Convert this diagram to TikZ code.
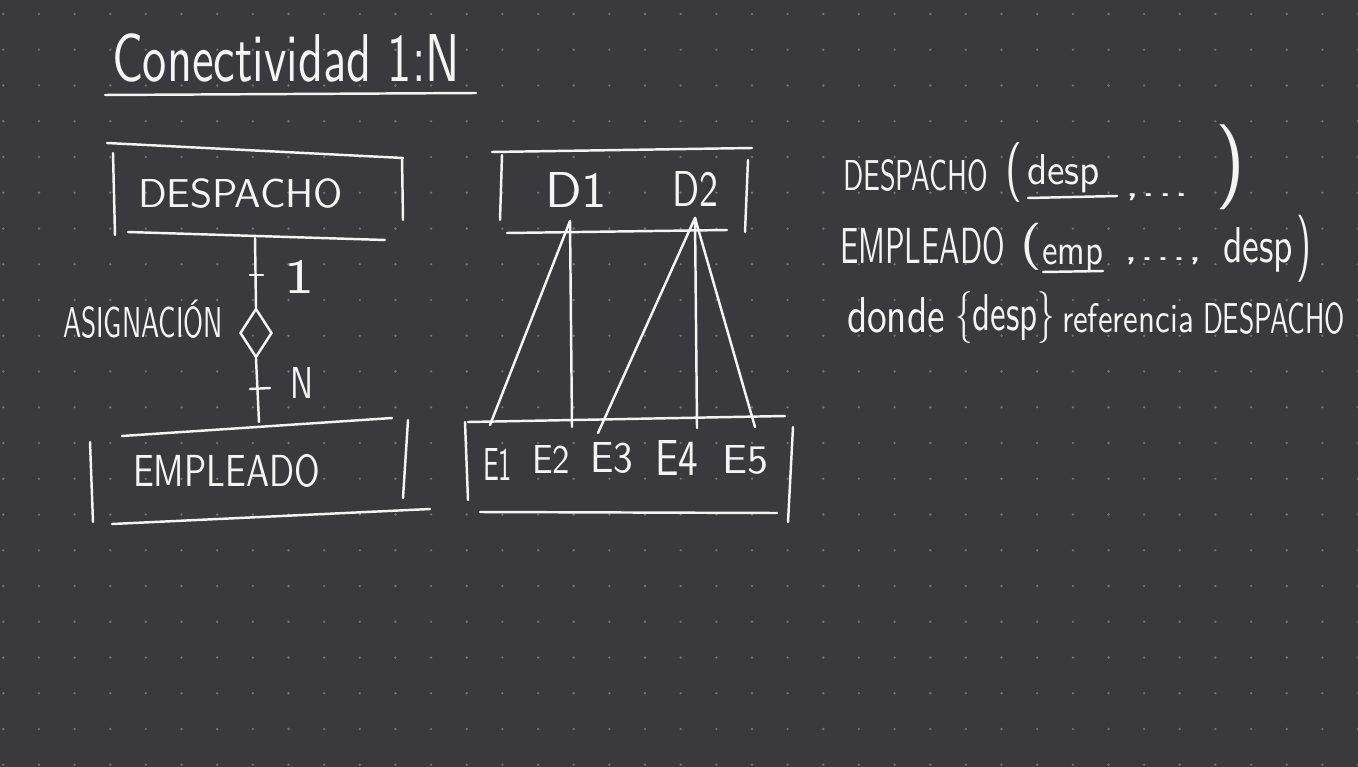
\documentclass[tikz,border=0pt]{standalone}
\usepackage{graphicx}
\usetikzlibrary{shapes.geometric}
\newlength\pxu \setlength\pxu{0.01cm}
\newcommand\hw[4]{\resizebox{#1\pxu}{#2\pxu}{\vphantom{#3}\smash{#4}}}
\newcommand\pr[3]{\resizebox*{#1\pxu}{#2\pxu}{#3}}
\definecolor{bgc}{HTML}{3A393D}
\definecolor{dotc}{HTML}{747377}
\definecolor{inkc}{HTML}{F4F4F4}
\begin{document}
\begin{tikzpicture}[x=0.01cm,y=-0.01cm,
  ink/.style={draw=inkc, line width=0.7pt, line cap=round, line join=round},
  txt/.style={inner sep=0pt, outer sep=0pt, anchor=base west, text=inkc, font=\sffamily},
  par/.style={inner sep=0pt, outer sep=0pt, anchor=north west, text=inkc, font=\sffamily},
  rel/.style={shape=diamond, draw=inkc, line width=0.7pt, inner sep=0pt, minimum width=32\pxu, minimum height=49\pxu}]
\useasboundingbox (0,0) rectangle (1358,767);
\fill[bgc] (0,0) rectangle (1358,767);
\foreach \i in {0,...,38}{\foreach \j in {0,...,21}{\fill[dotc] ({3.3+35.65*\i},{14+35.75*\j}) circle (1.3\pxu);}}
% title
\node[txt] (title) at (112,82) {\hw{348}{47}{d}{Conectividad 1:N}};
\draw[ink] (105,95) -- (476,93);
% left ER diagram
\node[txt] (despE) at (138,207) {\hw{205}{28}{D}{DESPACHO}};
\draw[ink] (107,143) -- (403,158);
\draw[ink] (113,153) -- (115,235);
\draw[ink] (402,158) -- (403,220);
\draw[ink] (128,232) -- (385,240);
\coordinate (despB) at (255,238);
\node[rel] (asig) at (256,333) {};
\coordinate (emplT) at (259,422);
\draw[ink] (despB) -- (asig.north);
\draw[ink] (asig.south) -- (emplT);
\draw[ink] (250,275) -- (263,275);
\draw[ink] (250,389) -- (270,388);
\node[txt] (one) at (284,293) {\hw{30}{33}{1}{1}};
\node[txt] (enn) at (290,398) {\hw{23}{31}{N}{N}};
\node[txt] (asigT) at (63,337) {\hw{160}{30}{A}{ASIGNACIÓN}};
\node[txt] (emplE) at (133,486) {\hw{187}{31}{E}{EMPLEADO}};
\draw[ink] (122,436) -- (392,418);
\draw[ink] (90,442) -- (93,522);
\draw[ink] (408,420) -- (403,498);
\draw[ink] (112,524) -- (430,509);
% instance diagram
\draw[ink] (492,152) -- (752,148);
\draw[ink] (502,155) -- (500,220);
\draw[ink] (748,160) -- (745,232);
\draw[ink] (507,233) -- (727,230);
\node[txt] (d1) at (545,208) {\hw{62}{35}{D}{D1}};
\node[txt] (d2) at (672,207) {\hw{46}{35}{D}{D2}};
\coordinate (d1p) at (570,221);
\coordinate (d2p) at (695,218);
\draw[ink] (468,422) -- (785,416);
\draw[ink] (465,422) -- (468,500);
\draw[ink] (793,427) -- (788,522);
\draw[ink] (480,512) -- (777,513);
\coordinate (e1t) at (490,425);
\coordinate (e2t) at (572,427);
\coordinate (e3t) at (598,433);
\coordinate (e4t) at (697,428);
\coordinate (e5t) at (755,427);
\draw[ink] (d1p) -- (e1t);
\draw[ink] (d1p) -- (e2t);
\draw[ink] (d2p) -- (e3t);
\draw[ink] (d2p) -- (e4t);
\draw[ink] (d2p) -- (e5t);
\node[txt] (e1) at (483,480) {\hw{29}{32}{E}{E1}};
\node[txt] (e2) at (532,473) {\hw{38}{28}{E}{E2}};
\node[txt] (e3) at (590,472) {\hw{43}{30}{E}{E3}};
\node[txt] (e4) at (655,475) {\hw{43}{35}{E}{E4}};
\node[txt] (e5) at (722,473) {\hw{46}{28}{E}{E5}};
% relational schema
\node[txt] (r1a) at (843,190) {\hw{145}{30}{D}{DESPACHO}};
\node[par] (r1b) at (1005,142) {\pr{17}{60}{(}};
\node[txt] (r1c) at (1027,185) {\hw{73}{30}{d}{desp}};
\draw[ink] (1028,198) -- (1117,196);
\node[txt] (r1d) at (1124,196) {\hw{66}{15}{x}{,...}};
\node[par] (r1e) at (1215,125) {\pr{30}{85}{)}};
\node[txt] (r2a) at (840,263) {\hw{165}{35}{E}{EMPLEADO}};
\node[par] (r2b) at (1020,223) {\pr{22}{47}{(}};
\node[txt] (r2c) at (1042,264) {\hw{61}{19}{x}{emp}};
\draw[ink] (1043,272) -- (1103,271);
\node[txt] (r2d) at (1123,261) {\hw{80}{15}{x}{,...,}};
\node[txt] (r2e) at (1223,262) {\hw{70}{35}{d}{desp}};
\node[par] (r2f) at (1296,215) {\pr{15}{67}{)}};
\node[txt] (r3a) at (847,332) {\hw{98}{35}{d}{donde}};
\node[txt] (r3b) at (955,330) {\hw{100}{36}{d}{\{desp\}}};
\node[txt] (r3c) at (1062,332) {\hw{132}{29}{f}{referencia}};
\node[txt] (r3d) at (1203,333) {\hw{142}{30}{D}{DESPACHO}};
\end{tikzpicture}
\end{document}
